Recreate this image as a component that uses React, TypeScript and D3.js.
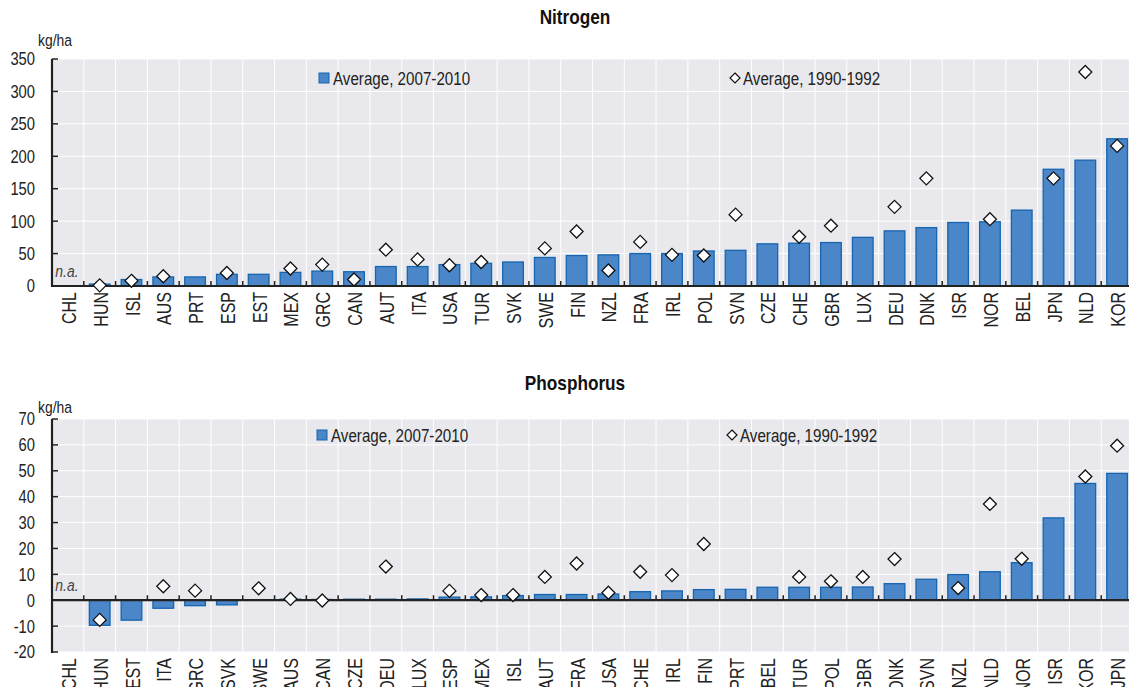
import React, { useEffect } from "react";
import * as d3 from "d3";

const nitroCats = ["CHL","HUN","ISL","AUS","PRT","ESP","EST","MEX","GRC","CAN","AUT","ITA","USA","TUR","SVK","SWE","FIN","NZL","FRA","IRL","POL","SVN","CZE","CHE","GBR","LUX","DEU","DNK","ISR","NOR","BEL","JPN","NLD","KOR"];
const nitro2007: (number | null)[] = [null,3,10,14,14,18,18,21,23,22,30,30,33,35,37,44,47,48,50,50,54,55,65,66,67,75,85,90,98,99,117,180,194,227];
const nitro1990: (number | null)[] = [null,1,8,15,null,20,null,27,33,10,56,41,32,37,null,58,84,24,68,48,47,110,null,76,93,null,122,166,null,103,null,166,330,216];
const nitroTicks = [0,50,100,150,200,250,300,350];

const phosCats = ["CHL","HUN","EST","ITA","GRC","SVK","SWE","AUS","CAN","CZE","DEU","LUX","ESP","MEX","ISL","AUT","FRA","USA","CHE","IRL","FIN","PRT","BEL","TUR","POL","GBR","DNK","SVN","NZL","NLD","NOR","ISR","KOR","JPN"];
const phos2007: (number | null)[] = [null,-9.7,-7.7,-3.1,-2.1,-1.8,0,0.4,0.3,0.4,0.4,0.5,1.2,1.3,1.8,2.2,2.2,2.4,3.3,3.6,4.1,4.2,5,5,5,5.1,6.4,8.1,9.9,11,14.5,31.8,45.1,49];
const phos1990: (number | null)[] = [null,-7.6,null,5.4,3.7,null,4.6,0.5,-0.1,null,13,null,3.6,2,2,9,14.2,2.9,11,9.7,21.7,null,null,9,7.3,9,15.9,null,4.7,37.2,16,null,47.8,59.7];
const phosTicks = [-20,-10,0,10,20,30,40,50,60,70];

const legendBar = "Average, 2007-2010";
const legendDot = "Average, 1990-1992";
const unitLabel = "kg/ha";
const naLabel = "n.a.";

const FONT = "'Liberation Sans', Arial, sans-serif";
const NARROW = 0.82;
const W = 1129;
const H = 687;
const PLOT_LEFT = 52;
const PLOT_RIGHT = 1133;
const BAR_FILL = "#4a86c8";
const BAR_STROKE = "#1565b0";
const BG = "#e9e9ed";

type NTProps = {
  x: number;
  y: number;
  size: number;
  anchor?: "start" | "middle" | "end";
  weight?: string;
  italic?: boolean;
  rotate?: number;
  dy?: string;
  fill?: string;
  children: React.ReactNode;
};

function NText(p: NTProps) {
  return (
    <text
      transform={`translate(${p.x},${p.y}) rotate(${p.rotate || 0}) scale(${NARROW},1)`}
      dy={p.dy || "0"}
      textAnchor={p.anchor || "start"}
      fontFamily={FONT}
      fontSize={p.size}
      fontWeight={p.weight || "normal"}
      fontStyle={p.italic ? "italic" : "normal"}
      fill={p.fill || "#222"}
    >
      {p.children}
    </text>
  );
}

type PanelProps = {
  title: string;
  cats: string[];
  bars: (number | null)[];
  dots: (number | null)[];
  ticks: number[];
  domain: [number, number];
  top: number;
  bottom: number;
  titleY: number;
  unitY: number;
  legendY: number;
  legendX1: number;
  legendX2: number;
};

function diamondPath(cx: number, cy: number, r: number) {
  return `M${cx},${cy - r}L${cx + r},${cy}L${cx},${cy + r}L${cx - r},${cy}Z`;
}

function Panel(p: PanelProps) {
  const x = d3.scaleBand<string>().domain(p.cats).range([PLOT_LEFT, PLOT_RIGHT]).paddingInner(0.35).paddingOuter(0.175);
  const xb = d3.scaleBand<string>().domain(p.cats).range([PLOT_LEFT, PLOT_RIGHT]);
  const y = d3.scaleLinear().domain(p.domain).range([p.bottom, p.top]);
  const y0 = y(0);
  const naIdx = p.bars.findIndex((v, i) => v === null && p.dots[i] === null);
  return (
    <g>
      <NText x={575} y={p.titleY} anchor="middle" weight="bold" size={21} fill="#111">{p.title}</NText>
      <rect x={PLOT_LEFT} y={p.top} width={PLOT_RIGHT - PLOT_LEFT} height={p.bottom - p.top} fill={BG} />
      {p.ticks.map((t) => (
        <line key={"h" + t} x1={PLOT_LEFT} x2={PLOT_RIGHT} y1={y(t)} y2={y(t)} stroke="#fff" strokeWidth={1} />
      ))}
      {p.cats.slice(1).map((c) => (
        <line key={"v" + c} x1={xb(c)!} x2={xb(c)!} y1={p.top} y2={p.bottom} stroke="#fff" strokeWidth={1} />
      ))}
      <rect x={p.legendX1 - 14} y={p.legendY - 5} width={10} height={10} fill={BAR_FILL} stroke={BAR_STROKE} strokeWidth={1} />
      <NText x={p.legendX1} y={p.legendY} dy="0.36em" size={18.5}>{legendBar}</NText>
      <path d={diamondPath(p.legendX2 - 8, p.legendY, 5)} fill="#fff" stroke="#111" strokeWidth={1.2} />
      <NText x={p.legendX2} y={p.legendY} dy="0.36em" size={18.5}>{legendDot}</NText>
      {p.cats.map((c, i) => {
        const v = p.bars[i];
        if (v === null || v === 0) return null;
        const ya = y(v);
        return (
          <rect key={"b" + c} x={x(c)!} y={Math.min(ya, y0)} width={x.bandwidth()} height={Math.abs(ya - y0)} fill={BAR_FILL} stroke={BAR_STROKE} strokeWidth={1.3} />
        );
      })}
      <line x1={PLOT_LEFT} x2={PLOT_RIGHT} y1={y0} y2={y0} stroke="#222" strokeWidth={2.2} />
      {p.cats.slice(1).map((c) => (
        <line key={"t" + c} x1={xb(c)!} x2={xb(c)!} y1={y0 - 5} y2={y0} stroke="#222" strokeWidth={1.5} />
      ))}
      {p.cats.map((c, i) => {
        const v = p.dots[i];
        if (v === null) return null;
        const cx = xb(c)! + xb.bandwidth() / 2;
        return <path key={"d" + c} d={diamondPath(cx, y(v), 6.5)} fill="#fff" stroke="#111" strokeWidth={1.3} />;
      })}
      <line x1={PLOT_LEFT} x2={PLOT_LEFT} y1={p.top} y2={p.bottom + 1} stroke="#222" strokeWidth={2.2} />
      {p.ticks.map((t) => (
        <g key={"yt" + t}>
          <line x1={PLOT_LEFT} x2={PLOT_LEFT + 6} y1={y(t)} y2={y(t)} stroke="#222" strokeWidth={1.5} />
          <NText x={35} y={y(t)} dy="0.36em" anchor="end" size={18}>{t}</NText>
        </g>
      ))}
      <NText x={38} y={p.unitY} size={17}>{unitLabel}</NText>
      {naIdx >= 0 && (
        <NText x={xb(p.cats[naIdx])! + xb.bandwidth() / 2 - 1} y={y0 - 9} anchor="middle" italic size={17} fill="#444">{naLabel}</NText>
      )}
      {p.cats.map((c) => {
        const cx = xb(c)! + xb.bandwidth() / 2 + 1;
        return (
          <NText key={"l" + c} x={cx} y={p.bottom + 6} rotate={-90} dy="0.36em" anchor="end" size={19.5}>{c}</NText>
        );
      })}
    </g>
  );
}

export default function App() {
  useEffect(() => {
    document.body.style.margin = "0";
  }, []);
  return (
    <svg width={W} height={H} viewBox={`0 0 ${W} ${H}`} style={{ display: "block", position: "absolute", left: 0, top: 0, background: "#fff" }}>
      <Panel title="Nitrogen" cats={nitroCats} bars={nitro2007} dots={nitro1990} ticks={nitroTicks} domain={[0, 350]} top={59} bottom={286} titleY={24} unitY={46} legendY={78} legendX1={333} legendX2={743} />
      <Panel title="Phosphorus" cats={phosCats} bars={phos2007} dots={phos1990} ticks={phosTicks} domain={[-20, 70]} top={419} bottom={652} titleY={390} unitY={413} legendY={435} legendX1={331} legendX2={740} />
    </svg>
  );
}
